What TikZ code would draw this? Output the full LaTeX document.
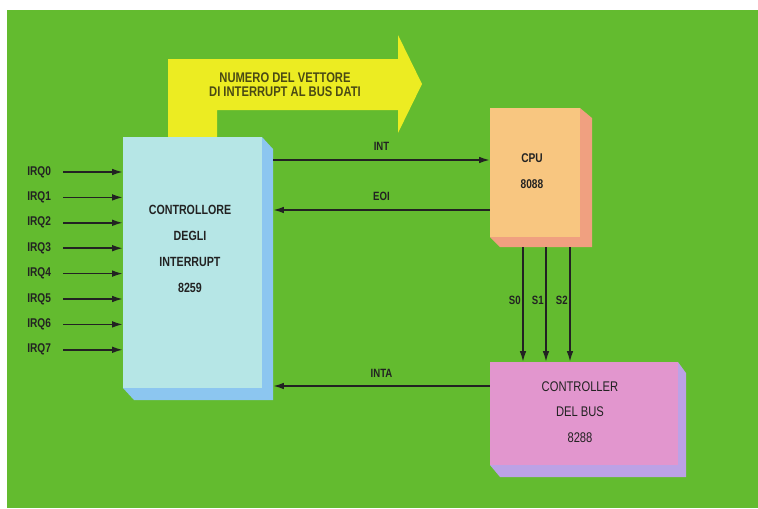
\documentclass[tikz,border=0pt]{standalone}
\usepackage{fontspec}
\setmainfont{Liberation Sans}
\newfontfamily\condfont[FakeStretch=0.8]{Liberation Sans}
\usetikzlibrary{arrows.meta,fit}
\definecolor{bggreen}{HTML}{63BB2F}
\definecolor{arrowyellow}{HTML}{ECEC22}
\definecolor{ytextcol}{HTML}{4A4A14}
\definecolor{inkcol}{HTML}{222222}
\definecolor{ctlfront}{HTML}{B6E6E6}
\definecolor{ctlside}{HTML}{8CC6F0}
\definecolor{cpufront}{HTML}{F8C680}
\definecolor{cpuside}{HTML}{F0A080}
\definecolor{busfront}{HTML}{E296CE}
\definecolor{busside}{HTML}{BCA2E6}
\begin{document}
\begin{tikzpicture}[x=0.75pt,y=-0.75pt,
  conn/.style={draw=inkcol, line width=1.1pt},
  arr/.style={conn, -{Latex[length=8pt,width=5pt]}},
  ytext/.style={text=ytextcol, align=center, font=\condfont\bfseries\fontsize{10.5}{10.5}\selectfont},
  boxtext/.style={text=inkcol, align=center, font=\condfont\bfseries\fontsize{10}{19.5}\selectfont},
  cputext/.style={text=inkcol, align=center, font=\condfont\bfseries\fontsize{9.5}{20}\selectfont},
  bustext/.style={text=inkcol, align=center, font=\condfont\fontsize{10.5}{19}\selectfont},
  sigtext/.style={text=inkcol, font=\condfont\bfseries\fontsize{9}{9}\selectfont},
  irqtext/.style={text=inkcol, font=\condfont\bfseries\fontsize{9.5}{10}\selectfont},
  hull/.style={inner sep=0pt, draw=none}
]
\useasboundingbox (0,0) rectangle (758,508);
\fill[white] (0,0) rectangle (758,508);
\fill[bggreen] (7,10) rectangle (758,508);

% yellow data arrow
\fill[arrowyellow] (168,137) -- (168,59) -- (398,59) -- (398,35) -- (422,84) -- (398,133)
  -- (398,110) -- (217,110) -- (217,137) -- cycle;
\node[ytext] (vec) at (285,85) {NUMERO DEL VETTORE\\DI INTERRUPT AL BUS DATI};

% interrupt controller 8259
\fill[ctlside] (123,137) -- (262,137) -- (273,149) -- (273,400) -- (134,400) -- (123,388) -- cycle;
\fill[ctlfront] (123,137) rectangle (262,388);
\node[hull, fit={(123,137) (273,400)}] (ctl) {};
\node[boxtext] (ctltxt) at (190,249) {CONTROLLORE\\DEGLI\\INTERRUPT\\8259};

% CPU 8088
\fill[cpuside] (490,108) -- (580,108) -- (592,118) -- (592,247) -- (500,247) -- (490,237) -- cycle;
\fill[cpufront] (490,108) rectangle (580,237);
\node[hull, fit={(490,108) (592,247)}] (cpu) {};
\node[cputext] (cputxt) at (532,171) {CPU\\8088};

% bus controller 8288
\fill[busside] (490,362) -- (678,362) -- (686,373) -- (686,477) -- (500,477) -- (490,465) -- cycle;
\fill[busfront] (490,362) rectangle (678,465);
\node[hull, fit={(490,362) (686,477)}] (bus) {};
\node[bustext] (bustxt) at (580,412) {CONTROLLER\\DEL BUS\\8288};

% IRQ inputs
\foreach \i in {0,...,7} {
  \node[irqtext, anchor=west, inner sep=0pt] (irq\i) at (27,172+25.4*\i) {IRQ\i};
  \coordinate (irqs\i) at (63,172+25.4*\i);
  \draw[arr] (irqs\i) -- (irqs\i -| ctl.west);
}

% INT, EOI, INTA
\coordinate (yint) at (0,160);
\coordinate (yeoi) at (0,210);
\coordinate (yinta) at (0,386);
\draw[arr] (ctl.east |- yint) -- node[sigtext, midway, above=3pt] {INT} (cpu.west |- yint);
\draw[arr] (cpu.west |- yeoi) -- node[sigtext, midway, above=3pt] {EOI} (ctl.east |- yeoi);
\draw[arr] (bus.west |- yinta) -- node[sigtext, midway, above=2.5pt] {INTA} (ctl.east |- yinta);

% status lines
\coordinate (s0) at (523,300);
\coordinate (s1) at (546,300);
\coordinate (s2) at (570,300);
\foreach \k in {0,1,2} {
  \draw[arr] (s\k |- cpu.south) -- (s\k |- bus.north);
  \node[sigtext, anchor=east, inner sep=1.5pt] at (s\k) {S\k};
}
\end{tikzpicture}
\end{document}
